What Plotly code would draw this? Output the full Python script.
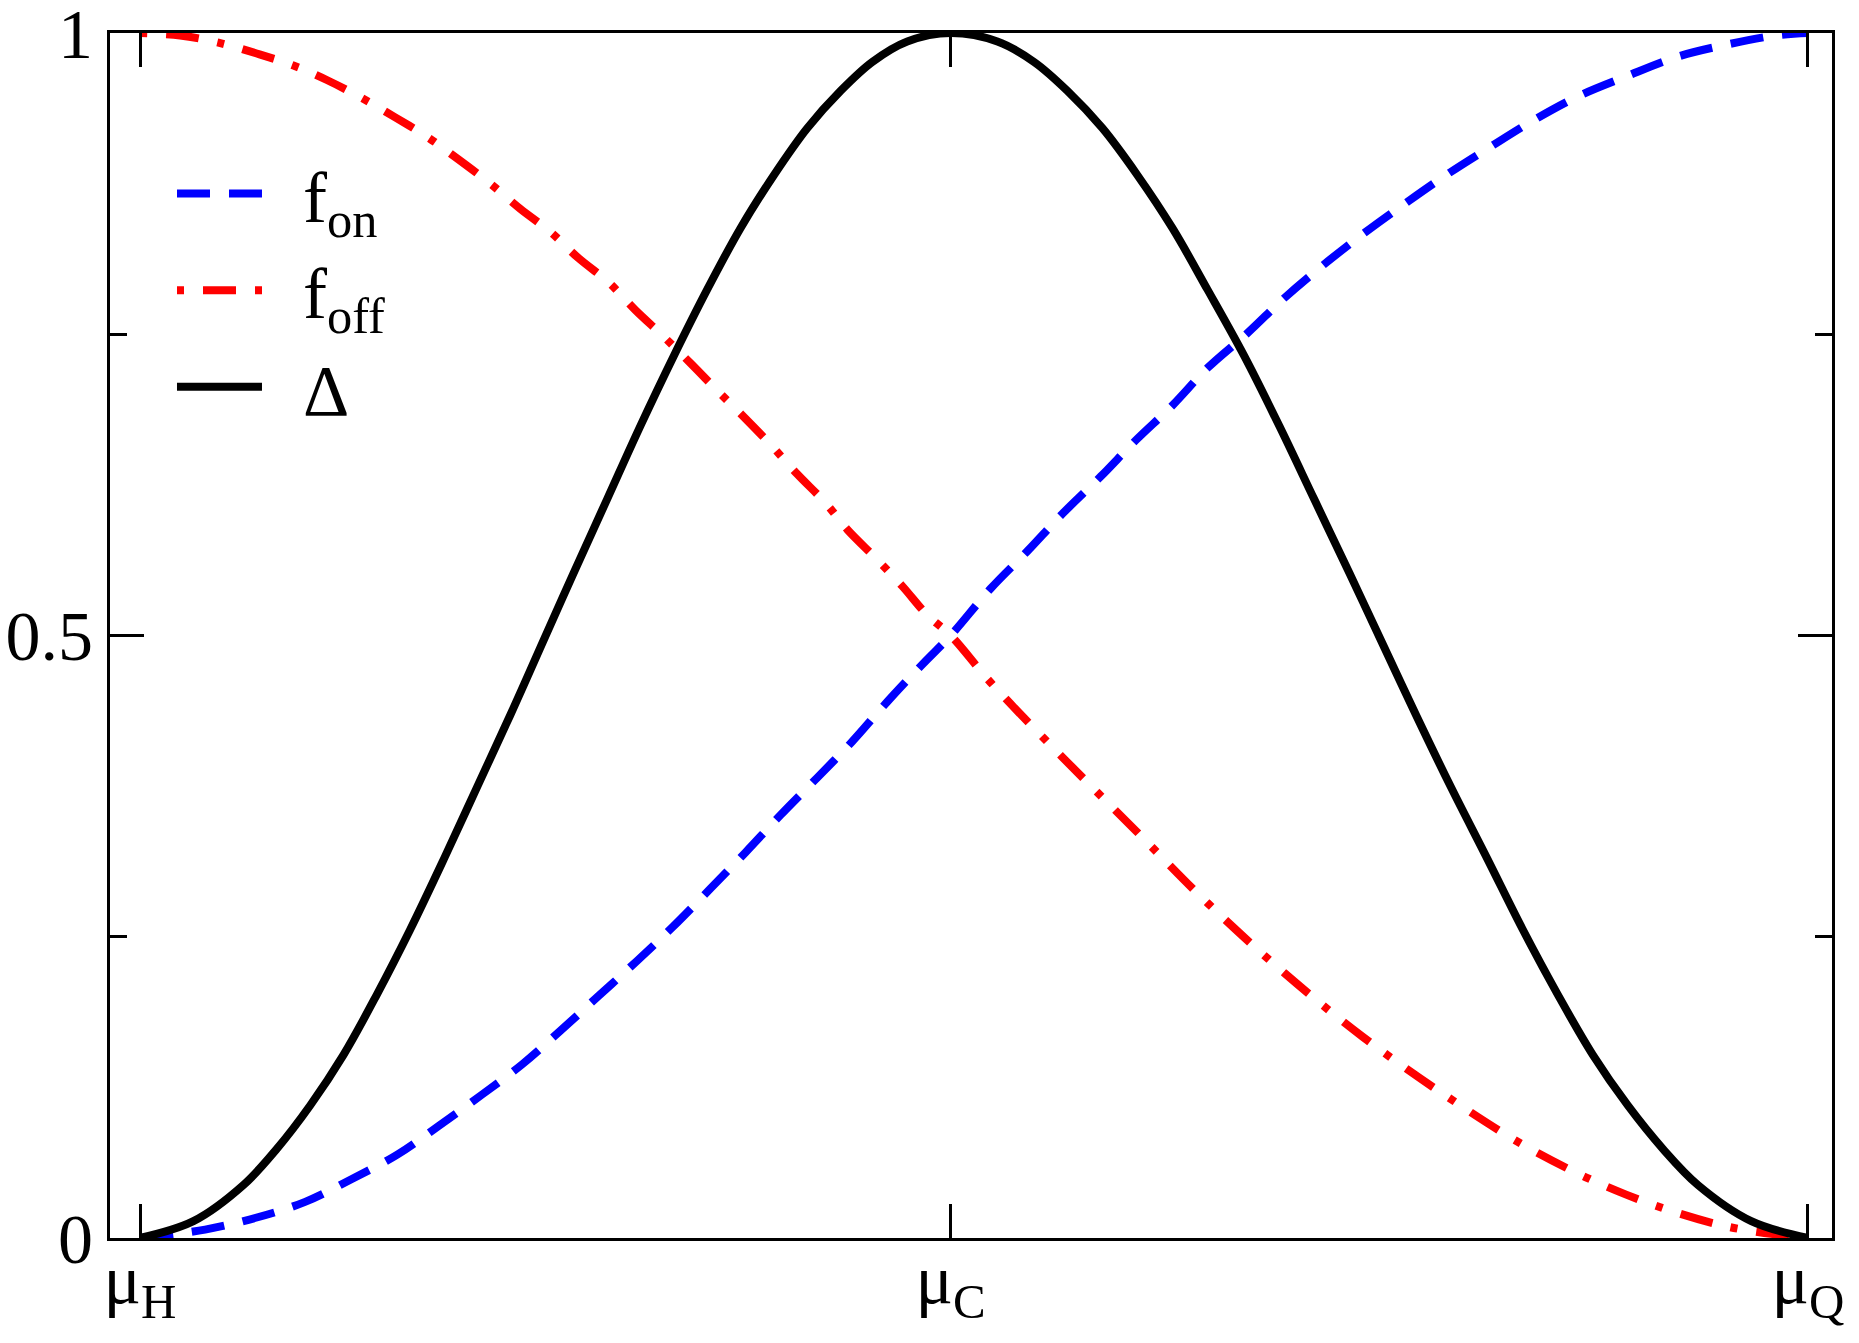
import plotly.graph_objects as go

# positions along the axis: mu_H = 0, mu_Q = 1
x_ticks = [0.0, 0.486, 1.0]
x_labels = ["μ<sub>H</sub>", "μ<sub>C</sub>", "μ<sub>Q</sub>"]
y_ticks = [0, 0.5, 1]
y_labels = ["0", "0.5", "1"]

# f_on (blue dashed)
x_on = [0.0, 0.039, 0.070, 0.099, 0.127, 0.154, 0.179, 0.205, 0.229, 0.252, 0.275,
        0.298, 0.320, 0.342, 0.363, 0.384, 0.406, 0.427, 0.448, 0.469, 0.486, 0.510,
        0.532, 0.553, 0.576, 0.597, 0.619, 0.640, 0.664, 0.686, 0.709, 0.733, 0.761,
        0.784, 0.809, 0.836, 0.863, 0.891, 0.921, 0.950, 0.981, 1.0]
y_on = [0.0, 0.007, 0.017, 0.030, 0.049, 0.069, 0.093, 0.119, 0.144, 0.172, 0.201,
        0.230, 0.259, 0.290, 0.320, 0.351, 0.382, 0.412, 0.445, 0.476, 0.500, 0.539,
        0.570, 0.601, 0.632, 0.662, 0.691, 0.722, 0.751, 0.780, 0.807, 0.833, 0.861,
        0.883, 0.905, 0.928, 0.948, 0.964, 0.980, 0.990, 0.998, 1.0]

# f_off (red dash-dot)
x_off = [0.0, 0.024, 0.047, 0.070, 0.092, 0.112, 0.133, 0.153, 0.173, 0.191, 0.210,
         0.228, 0.246, 0.263, 0.281, 0.297, 0.314, 0.330, 0.347, 0.363, 0.379, 0.394,
         0.411, 0.424, 0.442, 0.457, 0.472, 0.486, 0.510, 0.553, 0.597, 0.640, 0.686,
         0.733, 0.784, 0.836, 0.891, 0.950, 1.0]
y_off = [1.0, 0.998, 0.992, 0.983, 0.973, 0.961, 0.946, 0.930, 0.913, 0.895, 0.875,
         0.854, 0.835, 0.813, 0.793, 0.770, 0.748, 0.726, 0.702, 0.680, 0.657, 0.634,
         0.610, 0.588, 0.563, 0.541, 0.517, 0.500, 0.461, 0.399, 0.338, 0.278, 0.220,
         0.167, 0.117, 0.072, 0.036, 0.010, 0.0]

# Delta (black solid)
x_delta = [0.0, 0.032, 0.062, 0.082, 0.102, 0.122, 0.142, 0.162, 0.182, 0.202, 0.222,
           0.240, 0.260, 0.280, 0.300, 0.320, 0.340, 0.360, 0.380, 0.400, 0.420, 0.439,
           0.460, 0.486, 0.514, 0.536, 0.556, 0.577, 0.598, 0.619, 0.640, 0.662, 0.683,
           0.704, 0.725, 0.746, 0.765, 0.786, 0.808, 0.829, 0.850, 0.871, 0.892, 0.913,
           0.934, 0.966, 1.0]
y_delta = [0.0, 0.014, 0.044, 0.074, 0.110, 0.152, 0.202, 0.256, 0.314, 0.374, 0.434,
           0.490, 0.552, 0.613, 0.674, 0.732, 0.787, 0.838, 0.882, 0.921, 0.952, 0.976,
           0.993, 1.0, 0.993, 0.976, 0.952, 0.921, 0.882, 0.838, 0.787, 0.732, 0.674,
           0.613, 0.552, 0.490, 0.434, 0.374, 0.314, 0.256, 0.202, 0.152, 0.110, 0.074,
           0.044, 0.014, 0.0]

FONT = "Liberation Serif"
NBSP = "\u00a0"

fig = go.Figure()
fig.add_trace(go.Scatter(x=x_on, y=y_on, mode="lines", name=NBSP * 2 + "f<sub>on</sub>",
                         line=dict(color="#0000ff", width=8, dash="33px,19px", shape="spline")))
fig.add_trace(go.Scatter(x=x_off, y=y_off, mode="lines", name=NBSP * 2 + "f<sub>off</sub>",
                         line=dict(color="#ff0000", width=8, dash="7px,19px,33px,19px",
                                   shape="spline")))
fig.add_trace(go.Scatter(x=x_delta, y=y_delta, mode="lines", name=NBSP * 2 + "Δ",
                         line=dict(color="black", width=8, shape="spline")))

axis_common = dict(showline=True, linecolor="black", linewidth=3, mirror="allticks",
                   ticks="inside", ticklen=34, tickwidth=3, tickcolor="black",
                   showgrid=False, zeroline=False, automargin=False,
                   ticklabeloverflow="allow",
                   tickfont=dict(family=FONT, size=70, color="black"))

fig.update_xaxes(range=[-0.018, 1.0144], tickmode="array", tickvals=x_ticks,
                 ticktext=x_labels, ticklabelstandoff=-22, **axis_common)
fig.update_yaxes(range=[0, 1], tickmode="array", tickvals=y_ticks, ticktext=y_labels,
                 minor=dict(tickvals=[0.25, 0.75], ticks="inside", ticklen=17,
                            tickwidth=3, tickcolor="black"),
                 **axis_common)

# page body adds an 8px offset, so the figure is sized a bit smaller
fig.update_layout(
    width=1851, height=1335,
    margin=dict(l=102, r=27, t=25, b=105),
    plot_bgcolor="white", paper_bgcolor="white",
    font=dict(family=FONT, size=72, color="black"),
    showlegend=True,
    legend=dict(x=0.036, y=0.911, xanchor="left", yanchor="top",
                bgcolor="rgba(0,0,0,0)", itemwidth=85,
                font=dict(family=FONT, size=72, color="black")),
)

fig.write_html("out.html")
